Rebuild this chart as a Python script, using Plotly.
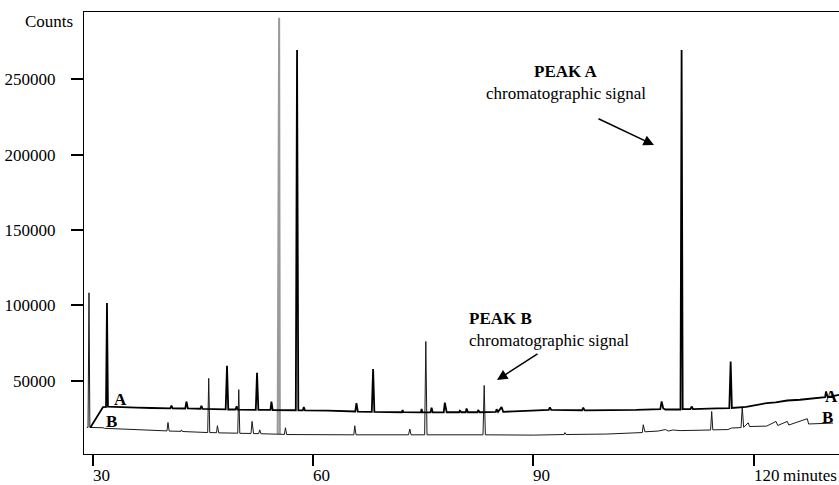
import plotly.graph_objects as go

# ---------------- data ----------------
a_time = [29.67, 31.39, 31.80, 31.93, 32.06, 33.7, 36.0, 38.0, 40.55, 40.71, 40.87,
          42.6, 42.75, 42.95, 44.65, 44.79, 44.95, 48.1, 48.28, 48.45, 49.45, 49.59, 49.75,
          52.2, 52.37, 52.55, 54.2, 54.33, 54.5, 57.65, 57.82, 57.99, 58.6, 58.74, 58.9,
          62.0, 65.75, 65.91, 66.1, 68.0, 68.18, 68.35, 72.1, 72.19, 72.3, 74.7, 74.78, 74.9,
          76.0, 76.14, 76.3, 77.8, 77.95, 78.2, 79.9, 80.0, 80.2, 80.8, 80.91, 81.1,
          82.4, 82.49, 82.7, 84.9, 85.0, 85.2, 85.68, 85.9, 90.0, 92.1, 92.26, 92.45,
          96.65, 96.8, 97.0, 100.0, 104.0, 107.3, 107.48, 107.7, 108.0, 110.05, 110.2, 110.35,
          111.4, 111.57, 111.75, 115.0, 116.7, 116.88, 117.05, 119.0, 120.0, 121.8, 123.0,
          124.6, 126.33, 127.3, 129.05, 129.75, 129.87, 130.1, 131.64]
a_counts = [18900, 32400, 32600, 101600, 32700, 32300, 32000, 31800, 31600, 33400, 31600,
            31500, 36100, 31500, 31300, 33300, 31200, 30900, 59800, 30800, 30800, 33000, 30700,
            30600, 55200, 30500, 30500, 36000, 30400, 30300, 269500, 30300, 30200, 32500, 30200,
            30000, 29500, 35100, 29400, 29300, 57700, 29200, 29000, 30500, 29000, 28900, 31200, 28900,
            28900, 32000, 28900, 28900, 35400, 29000, 29000, 30000, 29000, 29000, 31500, 29000,
            29000, 30500, 29000, 29200, 31000, 29300, 32400, 29300, 29800, 30500, 32200, 30500,
            30300, 32000, 30200, 30200, 30500, 31000, 36200, 31500, 30800, 30800, 269500, 31000,
            31000, 32800, 31100, 31500, 31700, 62700, 31800, 32500, 33500, 35100, 35500,
            36800, 37300, 37800, 38600, 39000, 42800, 39000, 40600]

b_time = [29.2, 29.35, 29.48, 29.6, 31.39, 31.6, 33.7, 37.75, 40.1, 40.24, 40.4,
          42.0, 42.07, 42.2, 45.65, 45.79, 45.93, 46.85, 46.97, 47.15, 49.74, 49.88, 50.02,
          51.55, 51.69, 51.9, 52.6, 52.74, 52.9, 56.1, 56.24, 56.4, 62.0, 65.55, 65.68, 65.85,
          73.0, 73.18, 73.35, 75.2, 75.36, 75.52, 83.15, 83.31, 83.47, 90.0, 94.2, 94.3, 94.45,
          100.0, 104.85, 104.98, 105.2, 107.0, 108.0, 108.4, 109.0, 110.0, 114.15, 114.3, 114.45,
          116.5, 117.0, 118.3, 118.46, 118.65, 119.28, 119.45, 121.8, 123.06, 123.3,
          124.6, 124.8, 127.32, 127.5, 130.82]
b_counts = [18900, 18900, 108300, 18900, 18700, 18300, 17900, 17000, 16600, 22200, 16500,
            16300, 17300, 16200, 15500, 51500, 15500, 15400, 20000, 15300, 15100, 44000, 15000,
            14900, 22900, 14800, 14800, 17300, 14700, 14300, 18700, 14200, 14100, 14000, 20000, 14000,
            14000, 17800, 14000, 14000, 76000, 14000, 14000, 46800, 14000, 13800, 14200, 15500, 14200,
            14500, 15500, 20700, 16000, 16500, 17500, 16500, 17200, 16800, 17200, 29500, 17300,
            17500, 18500, 18800, 32400, 19000, 22000, 19500, 19800, 22900, 20200,
            22900, 20500, 24700, 21200, 21800]

# shared peak drawn in grey
c_time = [55.18, 55.28, 55.38, 55.48]
c_counts = [14500, 291000, 291000, 14500]

x_ticks = [30, 60, 90, 120]
x_tick_labels = ["30", "60", "90", "120"]
y_ticks = [50000, 100000, 150000, 200000, 250000]
y_tick_labels = ["50000", "100000", "150000", "200000", "250000"]

# ---------------- figure ----------------
FONT = "Liberation Serif"
W, H = 839, 485
ML, MR, MT, MB = 84, 0, 12, 31
PW, PH = W - ML - MR, H - MT - MB


def px(xp):
    return (xp - ML) / PW


def py(yp):
    return (H - MB - yp) / PH


fig = go.Figure()
fig.add_trace(go.Scatter(x=c_time, y=c_counts, mode="lines",
                         line=dict(color="#9a9a9a", width=2), hoverinfo="skip", showlegend=False))
fig.add_trace(go.Scatter(x=b_time, y=b_counts, mode="lines", name="B",
                         line=dict(color="#1a1a1a", width=1), showlegend=False))
fig.add_trace(go.Scatter(x=a_time, y=a_counts, mode="lines", name="A",
                         line=dict(color="#000000", width=1.8), showlegend=False))

annos = []
# x tick labels, left-aligned at their ticks
for v, t in zip(x_ticks, x_tick_labels):
    annos.append(dict(x=v, xref="x", y=0, yref="paper", text=t, showarrow=False,
                      xanchor="left", yanchor="top", yshift=-10, xshift=-2,
                      font=dict(family=FONT, size=17, color="black")))
annos.append(dict(x=px(781), xref="paper", y=0, yref="paper", text="minutes", showarrow=False,
                  xanchor="left", yanchor="top", yshift=-10,
                  font=dict(family=FONT, size=17, color="black")))
annos.append(dict(x=px(75), xref="paper", y=py(21), yref="paper", text="Counts", showarrow=False,
                  xanchor="right", yanchor="middle",
                  font=dict(family=FONT, size=17, color="black")))
# peak texts
annos.append(dict(x=px(566), xref="paper", y=py(72), yref="paper", text="<b>PEAK A</b>",
                  showarrow=False, xanchor="center", yanchor="middle",
                  font=dict(family=FONT, size=17, color="black")))
annos.append(dict(x=px(566), xref="paper", y=py(93), yref="paper", text="chromatographic signal",
                  showarrow=False, xanchor="center", yanchor="middle",
                  font=dict(family=FONT, size=17, color="black")))
annos.append(dict(x=px(467), xref="paper", y=py(318), yref="paper", text="<b>PEAK B</b>",
                  showarrow=False, xanchor="left", yanchor="middle",
                  font=dict(family=FONT, size=17, color="black")))
annos.append(dict(x=px(467), xref="paper", y=py(340), yref="paper", text="chromatographic signal",
                  showarrow=False, xanchor="left", yanchor="middle",
                  font=dict(family=FONT, size=17, color="black")))
# arrows
annos.append(dict(x=px(654), xref="paper", y=py(145), yref="paper", ax=-57, ay=-27,
                  showarrow=True, arrowhead=2, arrowsize=1.4, arrowwidth=1.5, arrowcolor="black",
                  text=""))
annos.append(dict(x=px(497), xref="paper", y=py(380), yref="paper", ax=42, ay=-27,
                  showarrow=True, arrowhead=2, arrowsize=1.4, arrowwidth=1.5, arrowcolor="black",
                  text=""))
# trace letters
for txt, xx, yy in [("A", 120, 399), ("B", 111, 421), ("A", 831, 396), ("B", 827, 417)]:
    annos.append(dict(x=px(xx), xref="paper", y=py(yy), yref="paper", text=f"<b>{txt}</b>",
                      showarrow=False, xanchor="center", yanchor="middle",
                      font=dict(family=FONT, size=17, color="black")))

fig.update_layout(
    width=W, height=H,
    margin=dict(l=ML, r=MR, t=MT, b=MB, pad=0, autoexpand=False),
    paper_bgcolor="white", plot_bgcolor="white",
    font=dict(family=FONT, size=17, color="black"),
    annotations=annos,
    showlegend=False,
)
fig.update_xaxes(range=[28.8, 131.64], tickvals=x_ticks, ticktext=["" for _ in x_ticks],
                 ticks="outside", ticklen=11, tickwidth=1.5, tickcolor="black",
                 showline=True, linecolor="black", linewidth=1.3, mirror=True,
                 showgrid=False, zeroline=False, automargin=False)
fig.update_yaxes(range=[1260, 294800], tickvals=y_ticks, ticktext=y_tick_labels,
                 ticks="outside", ticklen=12, tickwidth=1.5, tickcolor="black",
                 ticklabelstandoff=12, automargin=False,
                 showline=True, linecolor="black", linewidth=1.3, mirror=False,
                 showgrid=False, zeroline=False,
                 tickfont=dict(family=FONT, size=17, color="black"))

fig.write_html(
    "out.html",
    config={"displayModeBar": False},
    post_script="document.body.style.margin='0';document.body.style.overflow='hidden';",
)
